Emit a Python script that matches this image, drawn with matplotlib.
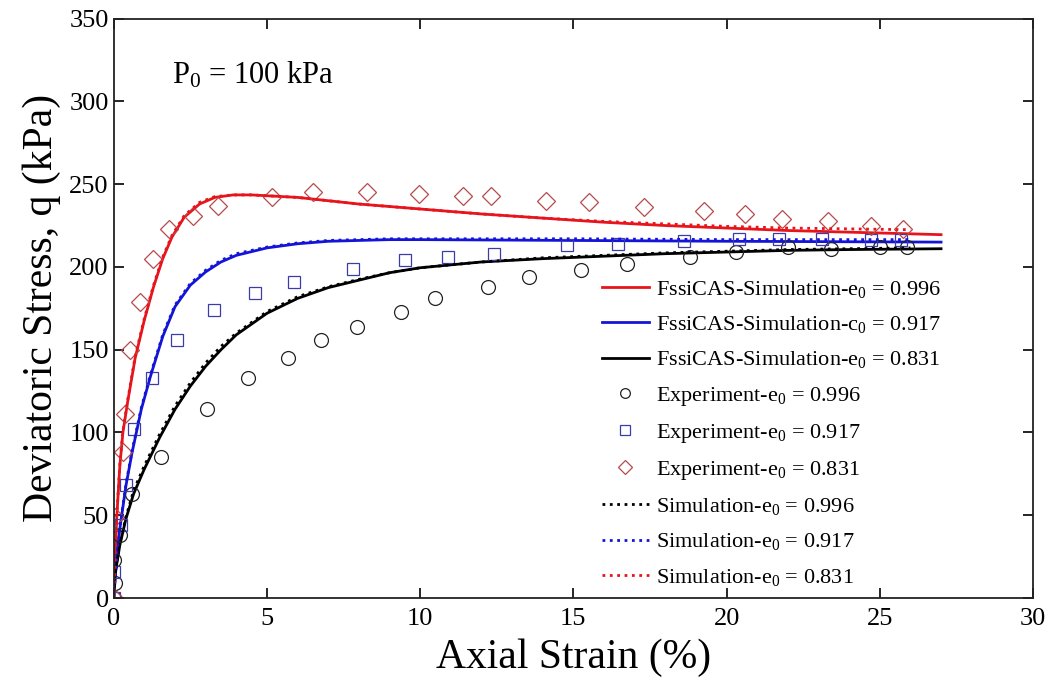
import numpy as np
import matplotlib.pyplot as plt

plt.rcParams['font.family'] = ['Liberation Serif', 'DejaVu Serif']
plt.rcParams['mathtext.fontset'] = 'custom'
plt.rcParams['mathtext.rm'] = 'Liberation Serif'
plt.rcParams['mathtext.it'] = 'Liberation Serif:italic'

# FssiCAS simulation curves (axial strain %, q kPa)
fs_x_996 = [0, 0.05, 0.1, 0.2, 0.3, 0.45, 0.7, 1.0, 1.3, 1.6, 1.9, 2.3, 2.8, 3.3, 3.9, 4.5,
            5.0, 6, 7, 8, 9, 10, 12, 14, 16, 18, 20, 22, 24, 27]
fs_q_996 = [0, 25, 49, 80, 100, 118, 145, 168, 188, 205, 218, 230, 238, 242, 243.5, 243.5,
            243, 242, 240, 238, 236.5, 235, 232, 229.5, 227, 225, 223.5, 222, 221, 219.5]

fs_x_917 = [0, 0.1, 0.2, 0.4, 0.6, 0.9, 1.2, 1.6, 2.0, 2.5, 3.0, 3.5, 4, 5, 6, 7, 8, 9, 10,
            15, 20, 27]
fs_q_917 = [0, 25, 42, 68, 88, 114, 134, 158, 176, 189, 197, 203, 207, 211.5, 214, 215.5, 216,
            216.5, 216.5, 216, 215.5, 215]

fs_x_831 = [0, 0.05, 0.2, 0.4, 0.65, 1.0, 1.5, 2.0, 2.5, 3.0, 3.5, 4, 5, 6, 7, 8, 9, 10,
            12, 14, 16, 18, 20, 22, 24, 27]
fs_q_831 = [0, 15, 32, 48, 63, 78, 97, 114, 128, 140, 150, 159, 172, 181, 187.5, 192, 196.5,
            199.5, 203, 205, 206.5, 208, 209, 210, 210.5, 211]

# experiments
ex_x_996 = [0, 0.05, 0.0, 0.2, 0.6, 1.55, 3.05, 4.37, 5.68, 6.76, 7.93, 9.37, 10.48, 12.2,
            13.55, 15.25, 16.75, 18.8, 20.3, 22.0, 23.4, 25.0, 25.9]
ex_q_996 = [0, 9, 23, 38, 63, 85, 114, 133, 145, 156, 164, 173, 181, 188,
            194, 198, 202, 206, 209, 212, 211, 212, 212]

ex_x_917 = [0, 0.0, 0.23, 0.4, 0.65, 1.24, 2.06, 3.27, 4.6, 5.87, 7.8, 9.5, 10.9, 12.4,
            14.8, 16.45, 18.6, 20.4, 21.7, 23.1, 24.7, 25.7]
ex_q_917 = [0, 16, 44, 68, 102, 133, 156, 174, 184, 191, 199, 204, 206, 208,
            213, 214, 215.5, 217, 217, 217, 216, 216]

ex_x_831 = [0, 0.05, 0.3, 0.36, 0.52, 0.85, 1.27, 1.8, 2.58, 3.4, 5.16, 6.5, 8.26, 9.95,
            11.4, 12.3, 14.1, 15.5, 17.3, 19.25, 20.6, 21.8, 23.3, 24.7, 25.75]
ex_q_831 = [0, 49, 88, 111, 150, 179, 205, 223, 231, 237, 242, 245, 245, 244,
            243, 243, 240, 239, 236, 234, 232, 229, 228, 225, 223]

# reference simulation (dotted)
sim_x_996 = [0, 0.05, 0.2, 0.4, 0.65, 1.0, 1.5, 2.0, 2.5, 3.0, 3.5, 4, 5, 6, 7, 8, 9, 10,
             12, 14, 16, 18, 20, 22, 24, 26]
sim_q_996 = [0, 16, 33, 49, 65, 80, 99, 116, 130, 142, 152, 160, 173, 182, 188, 192.5, 196.5,
             199.5, 203, 205.5, 207, 208.5, 209.5, 210.5, 211, 211.5]
sim_x_917 = [0, 0.1, 0.2, 0.4, 0.6, 0.9, 1.2, 1.6, 2.0, 2.5, 3.0, 3.5, 4, 5, 6, 7, 8, 9, 10,
             15, 20, 26]
sim_q_917 = [0, 26, 43, 69, 89, 115, 135, 159, 177, 190, 198, 204, 208, 212, 214.5, 216, 216.5,
             217, 217, 217, 216.5, 216.5]
sim_x_831 = [0, 0.05, 0.1, 0.2, 0.3, 0.45, 0.7, 1.0, 1.3, 1.6, 1.9, 2.3, 2.8, 3.3, 3.9, 4.5,
             5.0, 6, 7, 8, 9, 10, 12, 14, 16, 18, 20, 22, 24, 26]
sim_q_831 = [0, 26, 50, 81, 101, 119, 146, 169, 189, 206, 219, 231, 239, 242.5, 243.5, 243.5,
             243, 242, 240, 238, 236.5, 235, 232, 229.5, 227.5, 226, 224.5, 223.5, 223, 222.5]

fig = plt.figure(figsize=(10.53, 6.89), dpi=100)
ax = fig.add_axes([0.108, 0.132, 0.873, 0.841])

red = '#e8141c'
blue = '#1414d8'
ax.plot(fs_x_996, fs_q_996, color=red, lw=2.0, label='FssiCAS-Simulation-e$_0$ = 0.996')
ax.plot(fs_x_917, fs_q_917, color=blue, lw=2.0, label='FssiCAS-Simulation-c$_0$ = 0.917')
ax.plot(fs_x_831, fs_q_831, color='black', lw=2.0, label='FssiCAS-Simulation-e$_0$ = 0.831')
ax.plot(ex_x_996, ex_q_996, 'o', ms=10, mfc='none', mec='#222222', mew=0.9,
        label='Experiment-e$_0$ = 0.996')
ax.plot(ex_x_917, ex_q_917, 's', ms=8, mfc='none', mec='#3c3ca8', mew=0.9,
        label='Experiment-e$_0$ = 0.917')
ax.plot(ex_x_831, ex_q_831, 'D', ms=9, mfc='none', mec='#b8494a', mew=0.9,
        label='Experiment-e$_0$ = 0.831')
ax.plot(sim_x_996, sim_q_996, ':', color='black', lw=2.0, label='Simulation-e$_0$ = 0.996')
ax.plot(sim_x_917, sim_q_917, ':', color=blue, lw=2.0, label='Simulation-e$_0$ = 0.917')
ax.plot(sim_x_831, sim_q_831, ':', color=red, lw=2.0, label='Simulation-e$_0$ = 0.831')

ax.set_xlim(0, 30)
ax.set_ylim(0, 350)
ax.set_xticks(np.arange(0, 31, 5))
ax.set_yticks(np.arange(0, 351, 50))
ax.tick_params(direction='in', top=True, right=True, labelsize=19, length=7, width=1.2)
ax.tick_params(axis='x', pad=7)
for s in ax.spines.values():
    s.set_linewidth(1.3)
    s.set_color('#222222')

ax.set_xlabel('Axial Strain (%)', fontsize=30, labelpad=6)
ax.set_ylabel('Deviatoric Stress, q (kPa)', fontsize=30, labelpad=6)
ax.text(1.9, 311, 'P$_0$ = 100 kPa', fontsize=22)

leg = ax.legend(loc='lower right', bbox_to_anchor=(0.915, -0.005), frameon=False,
                fontsize=16, handlelength=2.1, labelspacing=0.64, handletextpad=0.35,
                borderaxespad=0.2)
for h in leg.legend_handles:
    h.set_markersize(7)

fig.savefig('out.png', dpi=100)
